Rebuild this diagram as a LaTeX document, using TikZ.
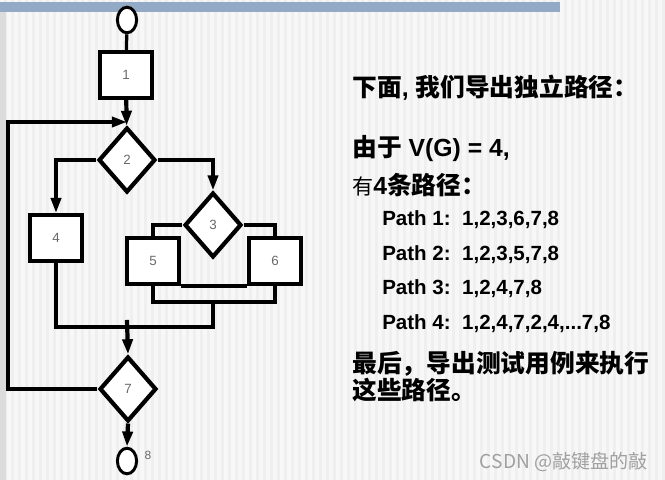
\documentclass[tikz,border=0pt]{standalone}
\usepackage{fontspec}
\setmainfont{Liberation Sans}
\newfontfamily\cjk{Noto Sans CJK SC}
\usepackage{tikz}
\usetikzlibrary{shapes.geometric, arrows.meta, positioning}
\definecolor{barBlue}{RGB}{146, 170, 198}
\definecolor{fondGris}{RGB}{239, 239, 239}
\definecolor{rayeClair}{RGB}{247, 247, 247}
\definecolor{bordGris}{RGB}{220, 220, 220}
\definecolor{numGris}{RGB}{105, 105, 105}
\definecolor{marqueGris}{RGB}{160, 160, 160}

\begin{document}
\begin{tikzpicture}[
  x=0.025cm, y=-0.025cm,
  box/.style={rectangle, draw, line width=2.7pt, fill=white,
    minimum width=1.3cm, minimum height=1.15cm, inner sep=0pt,
    font=\fontsize{9.5}{10}\selectfont\color{numGris}},
  dec/.style={diamond, draw, line width=3pt, fill=white,
    minimum width=1.42cm, minimum height=1.62cm, inner sep=0pt,
    font=\fontsize{9.5}{10}\selectfont\color{numGris}},
  term/.style={ellipse, draw, line width=2.1pt, fill=white,
    minimum width=0.48cm, minimum height=0.64cm, inner sep=0pt},
  flow/.style={line width=3pt},
  arr/.style={flow, -{Triangle[length=3.8mm, width=2.5mm]}},
  big/.style={anchor=west, inner sep=0pt, font=\fontsize{17.6}{19.2}\selectfont\bfseries, align=left},
  pth/.style={anchor=west, inner sep=0pt, font=\fontsize{14.6}{16}\selectfont\bfseries},
]
\useasboundingbox (0,0) rectangle (665,480);
% slide background
\fill[fondGris] (0,0) rectangle (665,480);
\foreach \sx in {0,7,...,658}
  \fill[rayeClair] (\sx,0) rectangle ++(3.5,480);
\fill[bordGris] (0,12) rectangle (6,480);
\fill[barBlue] (0,2) rectangle (560,12);

% flow graph
\node[term] (start) at (127,20) {};
\node[box]  (b1) at (126,75)  {1};
\node[dec]  (d2) at (127,160) {2};
\node[box]  (b4) at (56,238)  {4};
\node[dec]  (d3) at (213,225) {3};
\node[box]  (b5) at (153,261) {5};
\node[box]  (b6) at (275,261) {6};
\node[dec]  (d7) at (128,389) {7};
\node[term] (stop) at (127,461) {};
\node[font=\fontsize{8.5}{9}\selectfont\color{numGris}] (lbl8) at (148,455) {8};
\coordinate (lp)   at (8,122);
\coordinate (join) at (127,122);
\coordinate (mrg)  at (213,302);
\coordinate (low)  at (127,327);

\draw[flow, line width=2.3pt] (start) -- (b1);
\draw[arr] (b1) -- (d2);
\draw[arr] (d7.west) -| (lp) -- (join);
\draw[arr] (d2.west) -| (b4.north);
\draw[arr] (d2.east) -| (d3.north);
\draw[flow] (d3.west) -| (b5.north);
\draw[flow] (d3.east) -| (b6.north);
\draw[flow] (b5.south east) -- (b6.south west);
\draw[flow] (b5.south) |- (mrg) -| (b6.south);
\draw[flow] (mrg) |- (low) -| (b4.south);
\draw[arr] ([yshift=5pt]low) -- (d7.north);
\draw[arr] (d7.south) -- (stop.north);

% derived paths
\node[big] (tHead) at (352,88) {{\cjk 下面}, {\cjk 我们导出独立路径：}};
\node[big] (tVG)   at (352,148) {{\cjk 由于} V(G) = 4,};
\node[big] (tNum)  at (352,185) {{\cjk\mdseries\fontsize{15}{16}\selectfont 有}4{\cjk 条路径：}};
\node[pth] (p1) at (382,220) {Path 1:\ \ 1,2,3,6,7,8};
\node[pth] (p2) at (382,255) {Path 2:\ \ 1,2,3,5,7,8};
\node[pth] (p3) at (382,289) {Path 3:\ \ 1,2,4,7,8};
\node[pth] (p4) at (382,324) {Path 4:\ \ 1,2,4,7,2,4,...7,8};
\node[big] (tEnd) at (352,377) {\cjk 最后，导出测试用例来执行\\\cjk 这些路径。};
\node[font=\cjk\fontsize{13.6}{15}\selectfont\color{marqueGris}] (mark) at (564,462) {CSDN @敲键盘的敲};
\end{tikzpicture}
\end{document}
